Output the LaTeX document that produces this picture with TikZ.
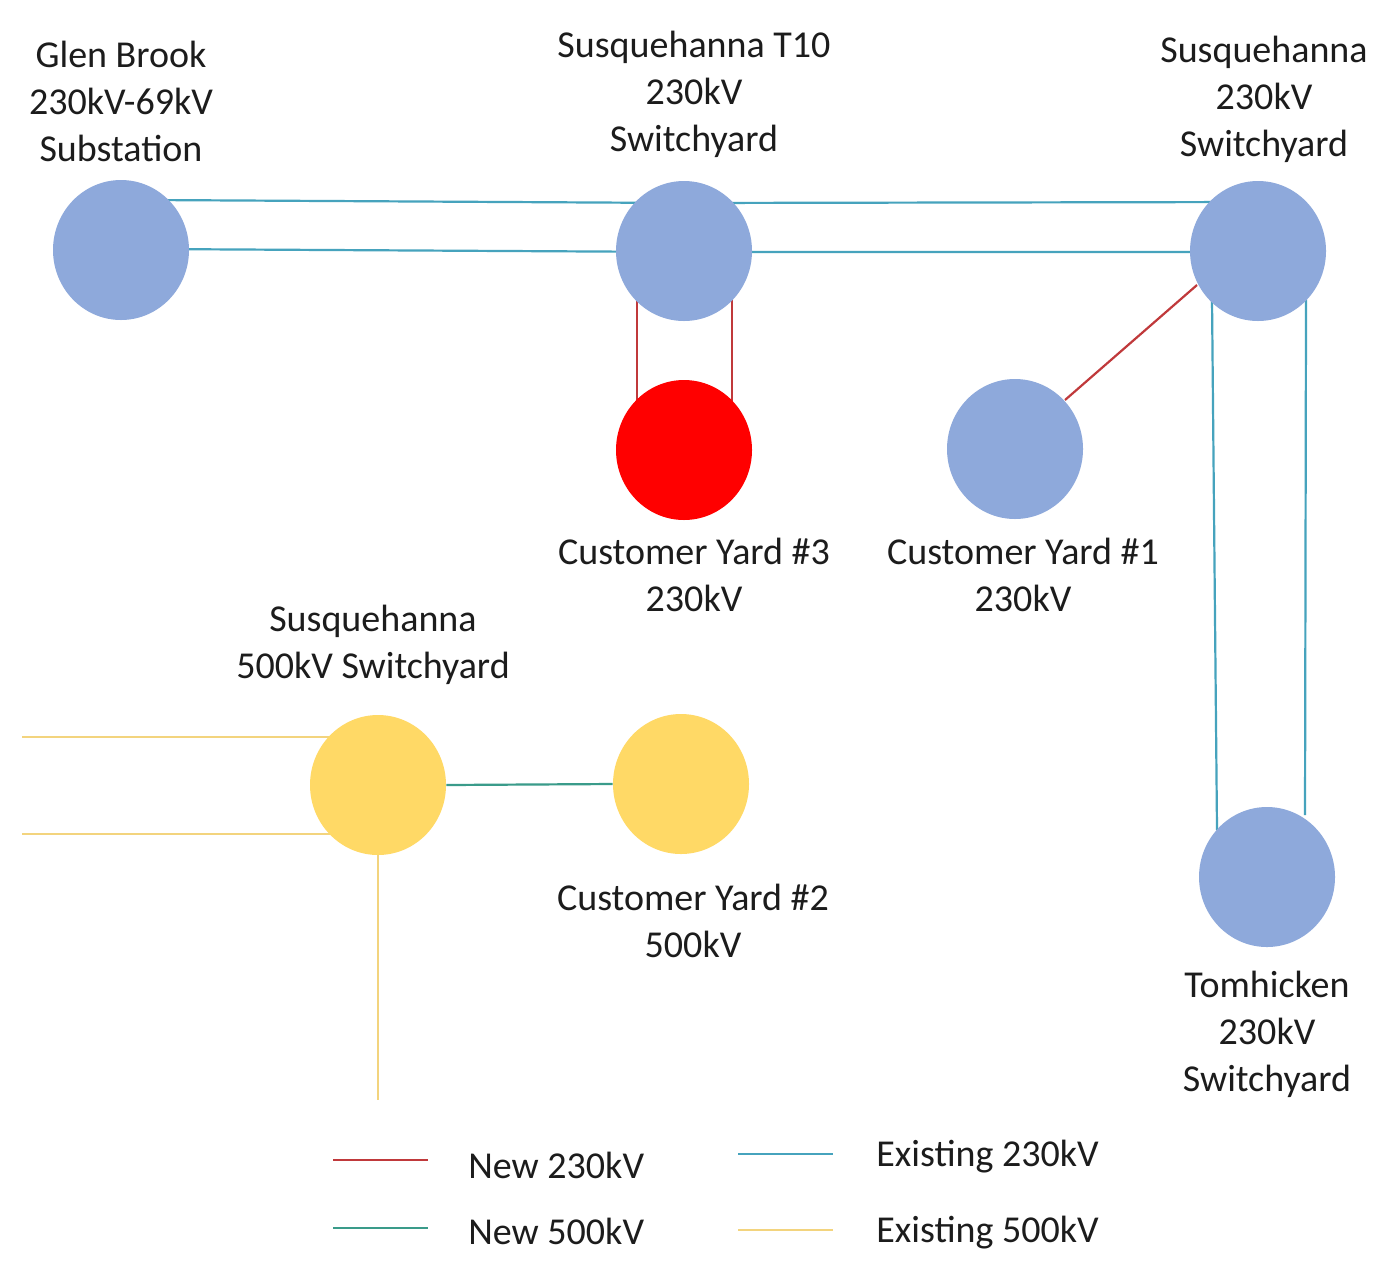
\documentclass[tikz,border=0pt]{standalone}
\usepackage{fontspec}
\setmainfont{Carlito}
\usetikzlibrary{shapes.geometric}
\definecolor{nodeblue}{HTML}{8EA9DB}
\definecolor{nodered}{HTML}{FF0000}
\definecolor{nodeyellow}{HTML}{FFD966}
\definecolor{exist230}{HTML}{46A3BD}
\definecolor{new230}{HTML}{C0393B}
\definecolor{new500}{HTML}{3A9B8A}
\definecolor{exist500}{HTML}{F3D47E}
\definecolor{txt}{HTML}{1C1C1C}
\begin{document}
\begin{tikzpicture}[x=0.5pt,y=-0.5pt,
  station/.style={ellipse,minimum width=68pt,minimum height=70pt,inner sep=0pt,draw=none},
  lbl/.style={align=center,inner sep=0pt,text=txt,font=\fontsize{19}{23.5}\selectfont},
  e230/.style={exist230,line width=1.1pt},
  n230/.style={new230,line width=1.1pt},
  n500/.style={new500,line width=1.1pt},
  e500/.style={exist500,line width=1.1pt}]
\useasboundingbox[fill=white] (0,0) rectangle (1400,1280);

% coordinates for line endpoints
\coordinate (gbT) at (150,200);
\coordinate (gbB) at (150,249);
\coordinate (t10T) at (684,203);
\coordinate (t10B) at (684,252);
\coordinate (s2T) at (1258,202);
\coordinate (s2B) at (1258,252);
\coordinate (t10L) at (637,300);
\coordinate (t10R) at (732,300);
\coordinate (cy3L) at (637,420);
\coordinate (cy3R) at (732,420);
\coordinate (s2a) at (1197,285);
\coordinate (cy1a) at (1065,400);
\coordinate (s2L) at (1212,300);
\coordinate (s2R) at (1306,300);
\coordinate (tmL) at (1217,830);
\coordinate (tmR) at (1305,815);
\coordinate (yl1) at (22,737);
\coordinate (yl2) at (22,834);
\coordinate (s5a) at (340,737);
\coordinate (s5b) at (340,834);
\coordinate (s5c) at (378,840);
\coordinate (ydown) at (378,1100);

% lines
\draw[e230] (gbT) -- (t10T) -- (s2T);
\draw[e230] (gbB) -- (t10B) -- (s2B);
\draw[n230] (t10L) -- (cy3L);
\draw[n230] (t10R) -- (cy3R);
\draw[n230] (s2a) -- (cy1a);
\draw[e230] (s2L) -- (tmL);
\draw[e230] (s2R) -- (tmR);
\draw[e500] (yl1) -- (s5a);
\draw[e500] (yl2) -- (s5b);
\draw[e500] (s5c) -- (ydown);

% stations
\node[station,fill=nodeblue] (gb) at (121,250) {};
\node[station,fill=nodeblue] (t10) at (684,251) {};
\node[station,fill=nodeblue] (s2) at (1258,251) {};
\node[station,fill=nodered] (cy3) at (684,450) {};
\node[station,fill=nodeblue] (cy1) at (1015,449) {};
\node[station,fill=nodeyellow] (s5) at (378,785) {};
\node[station,fill=nodeyellow] (cy2) at (681,784) {};
\node[station,fill=nodeblue] (tm) at (1267,877) {};
\draw[n500] (s5.east) -- (cy2.west);

% labels
\node[lbl] (lgb) at (121,101) {Glen Brook\\230kV-69kV\\Substation};
\node[lbl] (lt10) at (694,94) {Susquehanna T10\\230kV\\Switchyard};
\node[lbl] (ls2) at (1264,99) {Susquehanna\\230kV\\Switchyard};
\node[lbl] (lcy3) at (694,575) {Customer Yard \#3\\230kV};
\node[lbl] (lcy1) at (1023,575) {Customer Yard \#1\\230kV};
\node[lbl] (ls5) at (373,645) {Susquehanna\\500kV Switchyard};
\node[lbl] (lcy2) at (693,921) {Customer Yard \#2\\500kV};
\node[lbl] (ltm) at (1267,1034) {Tomhicken\\230kV\\Switchyard};

% legend
\coordinate (k1a) at (333,1160); \coordinate (k1b) at (428,1160);
\coordinate (k2a) at (333,1228); \coordinate (k2b) at (428,1228);
\coordinate (k3a) at (738,1154); \coordinate (k3b) at (833,1154);
\coordinate (k4a) at (738,1230); \coordinate (k4b) at (833,1230);
\draw[n230] (k1a) -- (k1b);
\draw[n500] (k2a) -- (k2b);
\draw[e230] (k3a) -- (k3b);
\draw[e500] (k4a) -- (k4b);
\node[lbl,anchor=west] (t1) at (468,1165) {New 230kV};
\node[lbl,anchor=west] (t2) at (468,1231) {New 500kV};
\node[lbl,anchor=west] (t3) at (876,1157) {Existing 230kV};
\node[lbl,anchor=west] (t4) at (876,1233) {Existing 500kV};
\end{tikzpicture}
\end{document}
